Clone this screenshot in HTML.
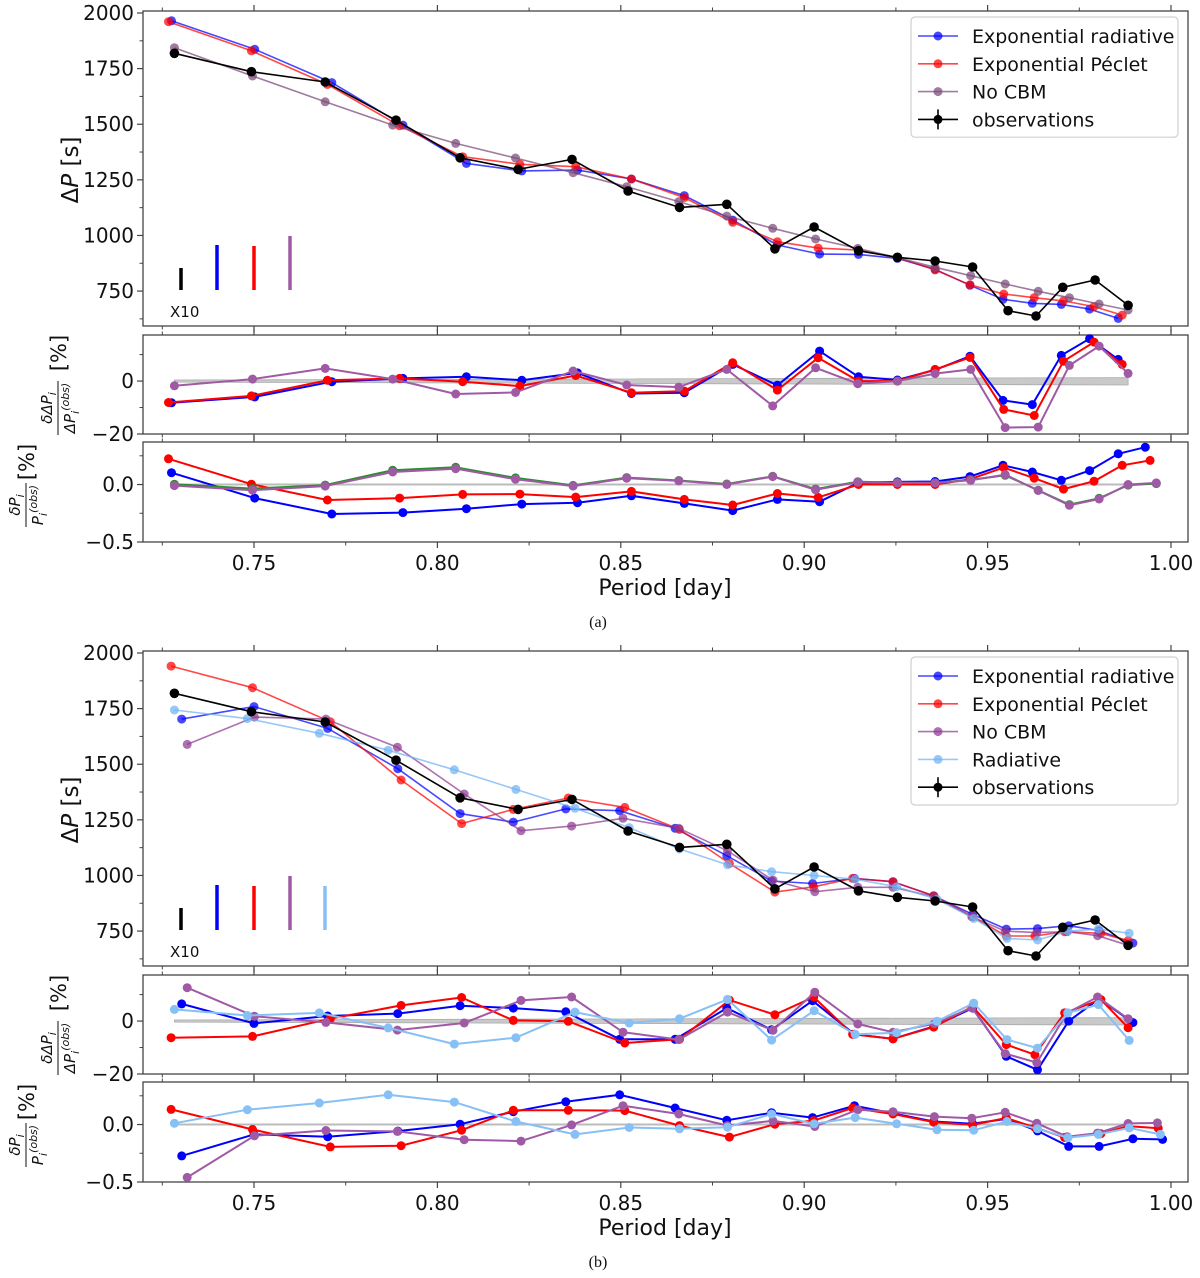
<!DOCTYPE html>
<html><head><meta charset="utf-8">
<style>
html,body{margin:0;padding:0;background:#fff;}
svg{display:block;font-family:"DejaVu Sans","Liberation Sans",sans-serif;}
</style></head>
<body>
<svg id="fig" width="1200" height="1278" viewBox="0 0 1200 1278" xmlns="http://www.w3.org/2000/svg"></svg>
<script>
// ---------- Panel (a) data ----------
const obsP = [0.7283,0.7493,0.7694,0.7887,0.8062,0.8220,0.8367,0.8520,0.8660,0.8789,0.8920,0.9027,0.9148,0.9254,0.9357,0.9459,0.9556,0.9632,0.9705,0.9793,0.9883];
const obsDP = [1819,1736,1690,1518,1349,1297,1342,1200,1126,1140,940,1038,931,902,885,858,662,638,767,800,686];

const aBlueP = [0.7275,0.7502,0.7712,0.7906,0.8079,0.8230,0.8382,0.8529,0.8673,0.8805,0.8927,0.9042,0.9148,0.9254,0.9357,0.9452,0.9542,0.9622,0.9701,0.9778,0.9856];
const aBlueDP = [1965,1837,1687,1496,1324,1290,1294,1254,1179,1069,957,916,915,897,848,776,713,695,690,669,627];
const aRedP = [0.7267,0.7493,0.7700,0.7897,0.8069,0.8225,0.8377,0.8529,0.8673,0.8805,0.8927,0.9038,0.9148,0.9254,0.9357,0.9452,0.9544,0.9627,0.9707,0.9790,0.9867];
const aRedDP = [1961,1830,1679,1493,1354,1320,1309,1254,1170,1059,972,943,934,900,845,778,737,720,706,680,642];
const aPurpP = [0.7283,0.7496,0.7694,0.7878,0.8050,0.8213,0.8370,0.8516,0.8658,0.8789,0.8914,0.9031,0.9146,0.9254,0.9357,0.9454,0.9548,0.9638,0.9723,0.9804,0.9883];
const aPurpDP = [1844,1717,1601,1496,1414,1348,1282,1219,1152,1087,1032,984,942,900,857,819,782,749,720,692,665];

const aBlueRes1 = [-8.2,-6.0,-0.25,1.0,1.6,0.3,3.1,-4.7,-4.4,6.3,-1.6,11.3,1.6,0.4,4.2,9.4,-7.3,-8.9,9.7,16,8.2];
const aRedRes1 = [-8.1,-5.6,0.3,1.0,-0.25,-1.9,2.1,-4.4,-3.8,6.9,-3.4,8.8,0,0,4.4,8.9,-10.7,-13,7.5,14.7,6.3];
const aPurpRes1 = [-1.8,0.75,4.8,0.75,-4.9,-4.3,3.8,-1.5,-2.3,4.4,-9.4,5,-1,0,2.8,4.4,-17.6,-17.4,5.9,13.2,2.9];

const aBlueRes2 = [0.103,-0.118,-0.256,-0.244,-0.210,-0.170,-0.158,-0.098,-0.164,-0.227,-0.129,-0.149,0.017,0.023,0.026,0.069,0.167,0.109,0.037,0.121,0.267,0.325];
const aRedRes2 = [0.224,0.003,-0.135,-0.118,-0.086,-0.083,-0.109,-0.060,-0.129,-0.178,-0.078,-0.112,0,0,0,0.046,0.147,0.055,-0.040,0.029,0.167,0.210];
const aPurpRes2 = [-0.009,-0.049,-0.014,0.109,0.138,0.046,-0.014,0.055,0.032,0,0.069,-0.046,0.020,0.014,0.014,0.037,0.086,-0.052,-0.181,-0.126,0,0.014];
const aGreenRes2 = [0.003,-0.035,-0.005,0.125,0.150,0.058,-0.008,0.060,0.035,0.005,0.072,-0.040,0.025,0.018,0.016,0.040,0.080,-0.050,-0.175,-0.120,-0.005,0.008];
const aBlueLastP = 0.9930, aRedLastP = 0.9943, aPurpLastP = 0.9960;

// ---------- Panel (b) data ----------
const bRedP = [0.7274,0.7496,0.7708,0.7901,0.8066,0.8207,0.8357,0.8511,0.8660,0.8796,0.8920,0.9026,0.9132,0.9242,0.9353,0.9459,0.9551,0.9629,0.9710,0.9809,0.9883];
const bRedDP = [1941,1844,1691,1429,1233,1297,1348,1306,1207,1054,925,949,987,972,909,814,728,728,747,740,707];
const bBlueP = [0.7303,0.7500,0.7701,0.7892,0.8062,0.8207,0.8350,0.8497,0.8648,0.8789,0.8911,0.9023,0.9137,0.9242,0.9353,0.9459,0.9551,0.9636,0.9721,0.9804,0.9896];
const bBlueDP = [1703,1759,1661,1480,1278,1240,1299,1291,1212,1089,975,964,987,972,908,825,759,761,774,752,696];
const bPurpP = [0.7318,0.7501,0.7696,0.7891,0.8073,0.8228,0.8366,0.8506,0.8658,0.8791,0.8915,0.9029,0.9146,0.9242,0.9355,0.9457,0.9548,0.9634,0.9717,0.9800,0.9883];
const bPurpDP = [1589,1712,1703,1576,1366,1201,1222,1257,1212,1111,979,927,947,947,904,814,750,743,747,729,686];
const bLbP = [0.7283,0.7482,0.7678,0.7866,0.8046,0.8214,0.8375,0.8523,0.8660,0.8791,0.8911,0.9027,0.9139,0.9252,0.9362,0.9462,0.9553,0.9636,0.9719,0.9802,0.9886];
const bLbDP = [1744,1705,1639,1563,1475,1387,1302,1215,1119,1048,1017,1000,983,949,893,807,717,710,750,759,740];

const bBlueRes1 = [6.5,-0.9,1.9,2.8,5.8,4.9,3.5,-6.9,-6.9,4.9,-3.3,7.7,-5,-6.7,-2,4.9,-13.3,-18.4,0,8.4,-0.6];
const bRedRes1 = [-6.3,-5.8,0.9,5.9,8.9,0.25,-0.1,-8.3,-6.9,7.9,2.4,9.1,-5,-6.7,-2.3,5.5,-8.9,-12.7,3.1,8.1,-2.5];
const bPurpRes1 = [12.6,1.8,-0.5,-3.4,-0.75,7.8,9.1,-4.2,-7,3.4,-3.5,10.9,-1.1,-4.2,-1,5,-12.3,-15.7,3.1,9.1,0.9];
const bLbRes1 = [4.4,2.1,3.1,-2.6,-8.7,-6.3,3.4,-0.75,0.9,8.2,-7.2,3.9,-5,-4.4,-0.1,6.8,-7,-10.2,3.1,6.2,-7.3];

const bBlueRes2 = [-0.273,-0.086,-0.106,-0.057,0.003,0.112,0.198,0.259,0.144,0.037,0.103,0.060,0.164,0.098,0.026,0.006,0.049,-0.055,-0.190,-0.190,-0.124,-0.129];
const bRedRes2 = [0.132,-0.043,-0.195,-0.184,-0.049,0.124,0.124,0.121,-0.009,-0.109,0.003,0.034,0.144,0.092,0.020,-0.003,0.057,-0.026,-0.112,-0.080,-0.014,-0.032];
const bPurpRes2 = [-0.460,-0.098,-0.052,-0.060,-0.132,-0.144,-0.003,0.164,0.092,-0.009,0.032,-0.017,0.129,0.112,0.069,0.055,0.106,0.011,-0.106,-0.075,0.009,0.014];
const bLbRes2 = [0.011,0.129,0.187,0.259,0.195,0.026,-0.086,-0.026,-0.037,-0.023,0.092,0.006,0.060,0.006,-0.046,-0.049,0.026,-0.037,-0.115,-0.086,-0.029,-0.086];
const bBlueLastP = 0.9977, bRedLastP = 0.9965, bPurpLastP = 0.9963, bLbLastP = 0.9971;

// observational uncertainty band in residual panel (percent)
const bandP = [0.7283, 0.9883];
const bandUpper = [0.4, 1.3];
const bandLower = [-0.4, -1.5];

// tick labels
const xTicks = [0.75,0.80,0.85,0.90,0.95,1.00];
const xTickLabels = ["0.75","0.80","0.85","0.90","0.95","1.00"];
const xMinor = [0.725,0.775,0.825,0.875,0.925,0.975];
const mainTicks = [750,1000,1250,1500,1750,2000];
const mainMinor = [625,875,1125,1375,1625,1875];
const res1Ticks = [0,-20];
const res1Minor = [10,-10];
const res2Ticks = [0.0,-0.5];
const res2TickLabels = ["0.0","\u22120.5"];
const res2Minor = [0.25,-0.25];

// ---------- drawing ----------
const NS = "http://www.w3.org/2000/svg";
const svg = document.getElementById('fig');
function mk(tag, attrs, parent){
  const e = document.createElementNS(NS, tag);
  for (const k in attrs) e.setAttribute(k, attrs[k]);
  (parent||svg).appendChild(e);
  return e;
}
const X0 = 143, X1 = 1188;
function xs(p){ return 254 + (p - 0.75) * 3668; }
function yScale(ax){ return v => ax.y1 - (v - ax.lo) / (ax.hi - ax.lo) * (ax.y1 - ax.y0); }

function drawSeries(ax, ps, vs, color, opts){
  const ys = yScale(ax);
  const g = mk('g', {});
  
  
  let d = '';
  for (let i = 0; i < ps.length; i++) d += (i ? 'L' : 'M') + xs(ps[i]).toFixed(1) + ' ' + ys(vs[i]).toFixed(1);
  const ln = mk('path', {d: d, fill: 'none', stroke: color, 'stroke-width': opts.lw || 1.6, 'stroke-opacity': opts.op || 1, 'stroke-linejoin': 'round'}, g);
  
  
  for (let i = 0; i < ps.length; i++){
    const c = mk('circle', {cx: xs(ps[i]).toFixed(1), cy: ys(vs[i]).toFixed(1), r: opts.r || 4.5, fill: color, 'fill-opacity': opts.op || 1}, g);
    
    
  }
}

function drawAxes(ax, name, yt, ytl, ym, showX){
  const ys = yScale(ax);
  const g = mk('g', {});
  
  
  const fr = mk('rect', {x: X0, y: ax.y0, width: X1 - X0, height: ax.y1 - ax.y0, fill: 'none', stroke: '#444', 'stroke-width': 1.3}, g);
  
  
  xTicks.forEach((t, i) => {
    mk('line', {x1: xs(t), x2: xs(t), y1: ax.y1, y2: ax.y1 + 6, stroke: '#444', 'stroke-width': 1.2}, g);
    mk('line', {x1: xs(t), x2: xs(t), y1: ax.y0, y2: ax.y0 - 6, stroke: '#444', 'stroke-width': 1.2}, g);
    if (showX){
      const tx = mk('text', {x: xs(t), y: ax.y1 + 28, 'font-size': 20, 'text-anchor': 'middle', fill: '#111'}, g);
      tx.textContent = xTickLabels[i];
      
      
    }
  });
  xMinor.forEach(t => {
    mk('line', {x1: xs(t), x2: xs(t), y1: ax.y1, y2: ax.y1 + 3.5, stroke: '#444', 'stroke-width': 1}, g);
    mk('line', {x1: xs(t), x2: xs(t), y1: ax.y0, y2: ax.y0 - 3.5, stroke: '#444', 'stroke-width': 1}, g);
  });
  yt.forEach((t, i) => {
    mk('line', {x1: X0 - 6, x2: X0, y1: ys(t), y2: ys(t), stroke: '#444', 'stroke-width': 1.2}, g);
    const tx = mk('text', {x: X0 - 9, y: ys(t) + 7, 'font-size': 20, 'text-anchor': 'end', fill: '#111'}, g);
    tx.textContent = ytl[i];
    
    
  });
  ym.forEach(t => {
    mk('line', {x1: X0 - 3.5, x2: X0, y1: ys(t), y2: ys(t), stroke: '#444', 'stroke-width': 1}, g);
  });
}

function drawPanel(off, tag, models, res1, res2, extraRes2, hasLb){
  const main = {y0: 11 + off, y1: 326 + off, lo: 593, hi: 2009};
  const r1 = {y0: 335 + off, y1: 434 + off, lo: -20, hi: 17.4};
  const r2 = {y0: 442 + off, y1: 542 + off, lo: -0.5, hi: 0.37};

  drawAxes(main, 'main-axes-' + tag, mainTicks, mainTicks.map(String), mainMinor, false);
  drawAxes(r1, 'delta-spacing-axes-' + tag, res1Ticks, ["0", "\u221220"], res1Minor, false);
  drawAxes(r2, 'delta-period-axes-' + tag, res2Ticks, res2TickLabels, res2Minor, true);

  // band res1
  const y1s = yScale(r1);
  const band = mk('polygon', {points:
    xs(bandP[0]) + ',' + y1s(bandUpper[0]) + ' ' + xs(bandP[1]) + ',' + y1s(bandUpper[1]) + ' ' +
    xs(bandP[1]) + ',' + y1s(bandLower[1]) + ' ' + xs(bandP[0]) + ',' + y1s(bandLower[0]),
    fill: '#bbb', 'fill-opacity': 0.8, stroke: '#aaa', 'stroke-width': 0.8});
  
  
  const y2s = yScale(r2);
  const zl = mk('line', {x1: xs(bandP[0]), x2: xs(bandP[1]), y1: y2s(0), y2: y2s(0), stroke: '#bbb', 'stroke-width': 2});
  
  

  models.forEach(m => drawSeries(main, m.p, m.v, m.c, {name: m.n + '-series-' + tag, op: 0.72, lw: 1.6}));
  drawSeries(main, obsP, obsDP, '#000', {name: 'observations-series-' + tag, lw: 1.6, r: 4.8});

  res1.forEach(m => drawSeries(r1, m.p, m.v, m.c, {name: m.n + '-spacing-residual-' + tag, lw: 2}));
  res2.forEach(m => drawSeries(r2, m.p, m.v, m.c, {name: m.n + '-period-residual-' + tag, lw: 2}));

  // error-size glyphs
  const glyphs = [[181, 268, '#000', 3.5], [217, 245, '#0000ff', 3.5], [254, 246, '#ff0000', 3.5], [290, 236, '#a05aa5', 3.5]];
  if (hasLb) { glyphs[0][1] = 268; glyphs.push([325, 246, '#87c0f5', 3.5]); }
  glyphs.forEach((gl, i) => {
    let top = gl[1];
    if (hasLb && i === 1) top = 245;
    if (hasLb && i === 3) top = 236;
    const l = mk('line', {x1: gl[0], x2: gl[0], y1: top + off, y2: 290 + off, stroke: gl[2], 'stroke-width': gl[3]});
    
    
  });
  const x10 = mk('text', {x: 170, y: 317 + off, 'font-size': 15, fill: '#111'});
  x10.textContent = 'X10';
  
  

  // y labels
  const yl = mk('text', {transform: 'translate(78,' + (170 + off) + ') rotate(-90)', 'font-size': 23, 'text-anchor': 'middle', fill: '#111'});
  yl.innerHTML = '\u0394<tspan font-style="italic">P</tspan> [s]';
  
  

  const f1 = mk('g', {transform: 'translate(58,' + (408 + off) + ') rotate(-90)'});
  
  
  const n1 = mk('text', {x: 0, y: -6, 'font-size': 15, 'font-style': 'italic', 'text-anchor': 'middle', fill: '#111'}, f1);
  n1.innerHTML = '\u03b4\u0394P<tspan font-size="11" dy="4">i</tspan>';
  mk('line', {x1: -27, x2: 27, y1: 0, y2: 0, stroke: '#111', 'stroke-width': 1}, f1);
  const d1 = mk('text', {x: 0, y: 17, 'font-size': 15, 'font-style': 'italic', 'text-anchor': 'middle', fill: '#111'}, f1);
  d1.innerHTML = '\u0394P<tspan font-size="11" dy="4">i</tspan><tspan font-size="11" dy="-10">(obs)</tspan>';
  const p1 = mk('text', {transform: 'translate(66,' + (353 + off) + ') rotate(-90)', 'font-size': 21, 'text-anchor': 'middle', fill: '#111'});
  p1.textContent = '[%]';
  
  

  const f2 = mk('g', {transform: 'translate(26,' + (505 + off) + ') rotate(-90)'});
  
  
  const n2 = mk('text', {x: 0, y: -6, 'font-size': 15, 'font-style': 'italic', 'text-anchor': 'middle', fill: '#111'}, f2);
  n2.innerHTML = '\u03b4P<tspan font-size="11" dy="4">i</tspan>';
  mk('line', {x1: -22, x2: 22, y1: 0, y2: 0, stroke: '#111', 'stroke-width': 1}, f2);
  const d2 = mk('text', {x: 0, y: 17, 'font-size': 15, 'font-style': 'italic', 'text-anchor': 'middle', fill: '#111'}, f2);
  d2.innerHTML = 'P<tspan font-size="11" dy="4">i</tspan><tspan font-size="11" dy="-10">(obs)</tspan>';
  const p2 = mk('text', {transform: 'translate(34,' + (462 + off) + ') rotate(-90)', 'font-size': 21, 'text-anchor': 'middle', fill: '#111'});
  p2.textContent = '[%]';
  
  

  const xl = mk('text', {x: 665, y: 595 + off, 'font-size': 22, 'text-anchor': 'middle', fill: '#111'});
  xl.textContent = 'Period [day]';
  
  
  const cap = mk('text', {x: 598, y: 627 + off, 'font-size': 16, 'text-anchor': 'middle', fill: '#111', 'font-family': '"Liberation Serif", serif'});
  cap.textContent = '(' + tag + ')';
  
  

  // legend
  const entries = models.map(m => [m.label, m.c]).concat([['observations', '#000']]);
  const lg = mk('g', {});
  
  
  const top = 17 + off;
  mk('rect', {x: 911, y: top, width: 267, height: entries.length * 27.8 + 9, rx: 4, fill: '#fff', 'fill-opacity': 0.85, stroke: '#d0d0d0', 'stroke-width': 1.2}, lg);
  entries.forEach((e, i) => {
    const ey = top + 19 + i * 27.8;
    const eg = mk('g', {}, lg);
    
    
    const isObs = e[0] === 'observations';
    mk('line', {x1: 918, x2: 958, y1: ey, y2: ey, stroke: e[1], 'stroke-width': 1.6, 'stroke-opacity': isObs ? 1 : 0.72}, eg);
    if (isObs) mk('line', {x1: 938, x2: 938, y1: ey - 10, y2: ey + 10, stroke: '#000', 'stroke-width': 1.6}, eg);
    mk('circle', {cx: 938, cy: ey, r: 4.5, fill: e[1], 'fill-opacity': isObs ? 1 : 0.72}, eg);
    const t = mk('text', {x: 972, y: ey + 7, 'font-size': 19, fill: '#111'}, eg);
    t.textContent = e[0];
  });
}

drawPanel(0, 'a',
  [{p: aBlueP, v: aBlueDP, c: '#0000ff', n: 'exp-radiative', label: 'Exponential radiative'},
   {p: aRedP, v: aRedDP, c: '#ff0000', n: 'exp-peclet', label: 'Exponential P\u00e9clet'},
   {p: aPurpP, v: aPurpDP, c: '#7a4a78', n: 'no-cbm', label: 'No CBM'}],
  [{p: aBlueP, v: aBlueRes1, c: '#0000ff', n: 'exp-radiative'},
   {p: aRedP, v: aRedRes1, c: '#ff0000', n: 'exp-peclet'},
   {p: aPurpP, v: aPurpRes1, c: '#a05aa5', n: 'no-cbm'}],
  [{p: aBlueP.concat([aBlueLastP]), v: aBlueRes2, c: '#0000ff', n: 'exp-radiative'},
   {p: aRedP.concat([aRedLastP]), v: aRedRes2, c: '#ff0000', n: 'exp-peclet'},
   {p: aPurpP.concat([aPurpLastP]), v: aGreenRes2, c: '#2e8b2e', n: 'green-model'},
   {p: aPurpP.concat([aPurpLastP]), v: aPurpRes2, c: '#a05aa5', n: 'no-cbm'}],
  null, false);

drawPanel(640, 'b',
  [{p: bBlueP, v: bBlueDP, c: '#0000ff', n: 'exp-radiative', label: 'Exponential radiative'},
   {p: bRedP, v: bRedDP, c: '#ff0000', n: 'exp-peclet', label: 'Exponential P\u00e9clet'},
   {p: bPurpP, v: bPurpDP, c: '#8e3a90', n: 'no-cbm', label: 'No CBM'},
   {p: bLbP, v: bLbDP, c: '#6fb3f5', n: 'radiative', label: 'Radiative'}],
  [{p: bBlueP, v: bBlueRes1, c: '#0000ff', n: 'exp-radiative'},
   {p: bRedP, v: bRedRes1, c: '#ff0000', n: 'exp-peclet'},
   {p: bPurpP, v: bPurpRes1, c: '#a05aa5', n: 'no-cbm'},
   {p: bLbP, v: bLbRes1, c: '#87c0f5', n: 'radiative'}],
  [{p: bBlueP.concat([bBlueLastP]), v: bBlueRes2, c: '#0000ff', n: 'exp-radiative'},
   {p: bRedP.concat([bRedLastP]), v: bRedRes2, c: '#ff0000', n: 'exp-peclet'},
   {p: bPurpP.concat([bPurpLastP]), v: bPurpRes2, c: '#a05aa5', n: 'no-cbm'},
   {p: bLbP.concat([bLbLastP]), v: bLbRes2, c: '#87c0f5', n: 'radiative'}],
  null, true);
</script>
</body></html>
